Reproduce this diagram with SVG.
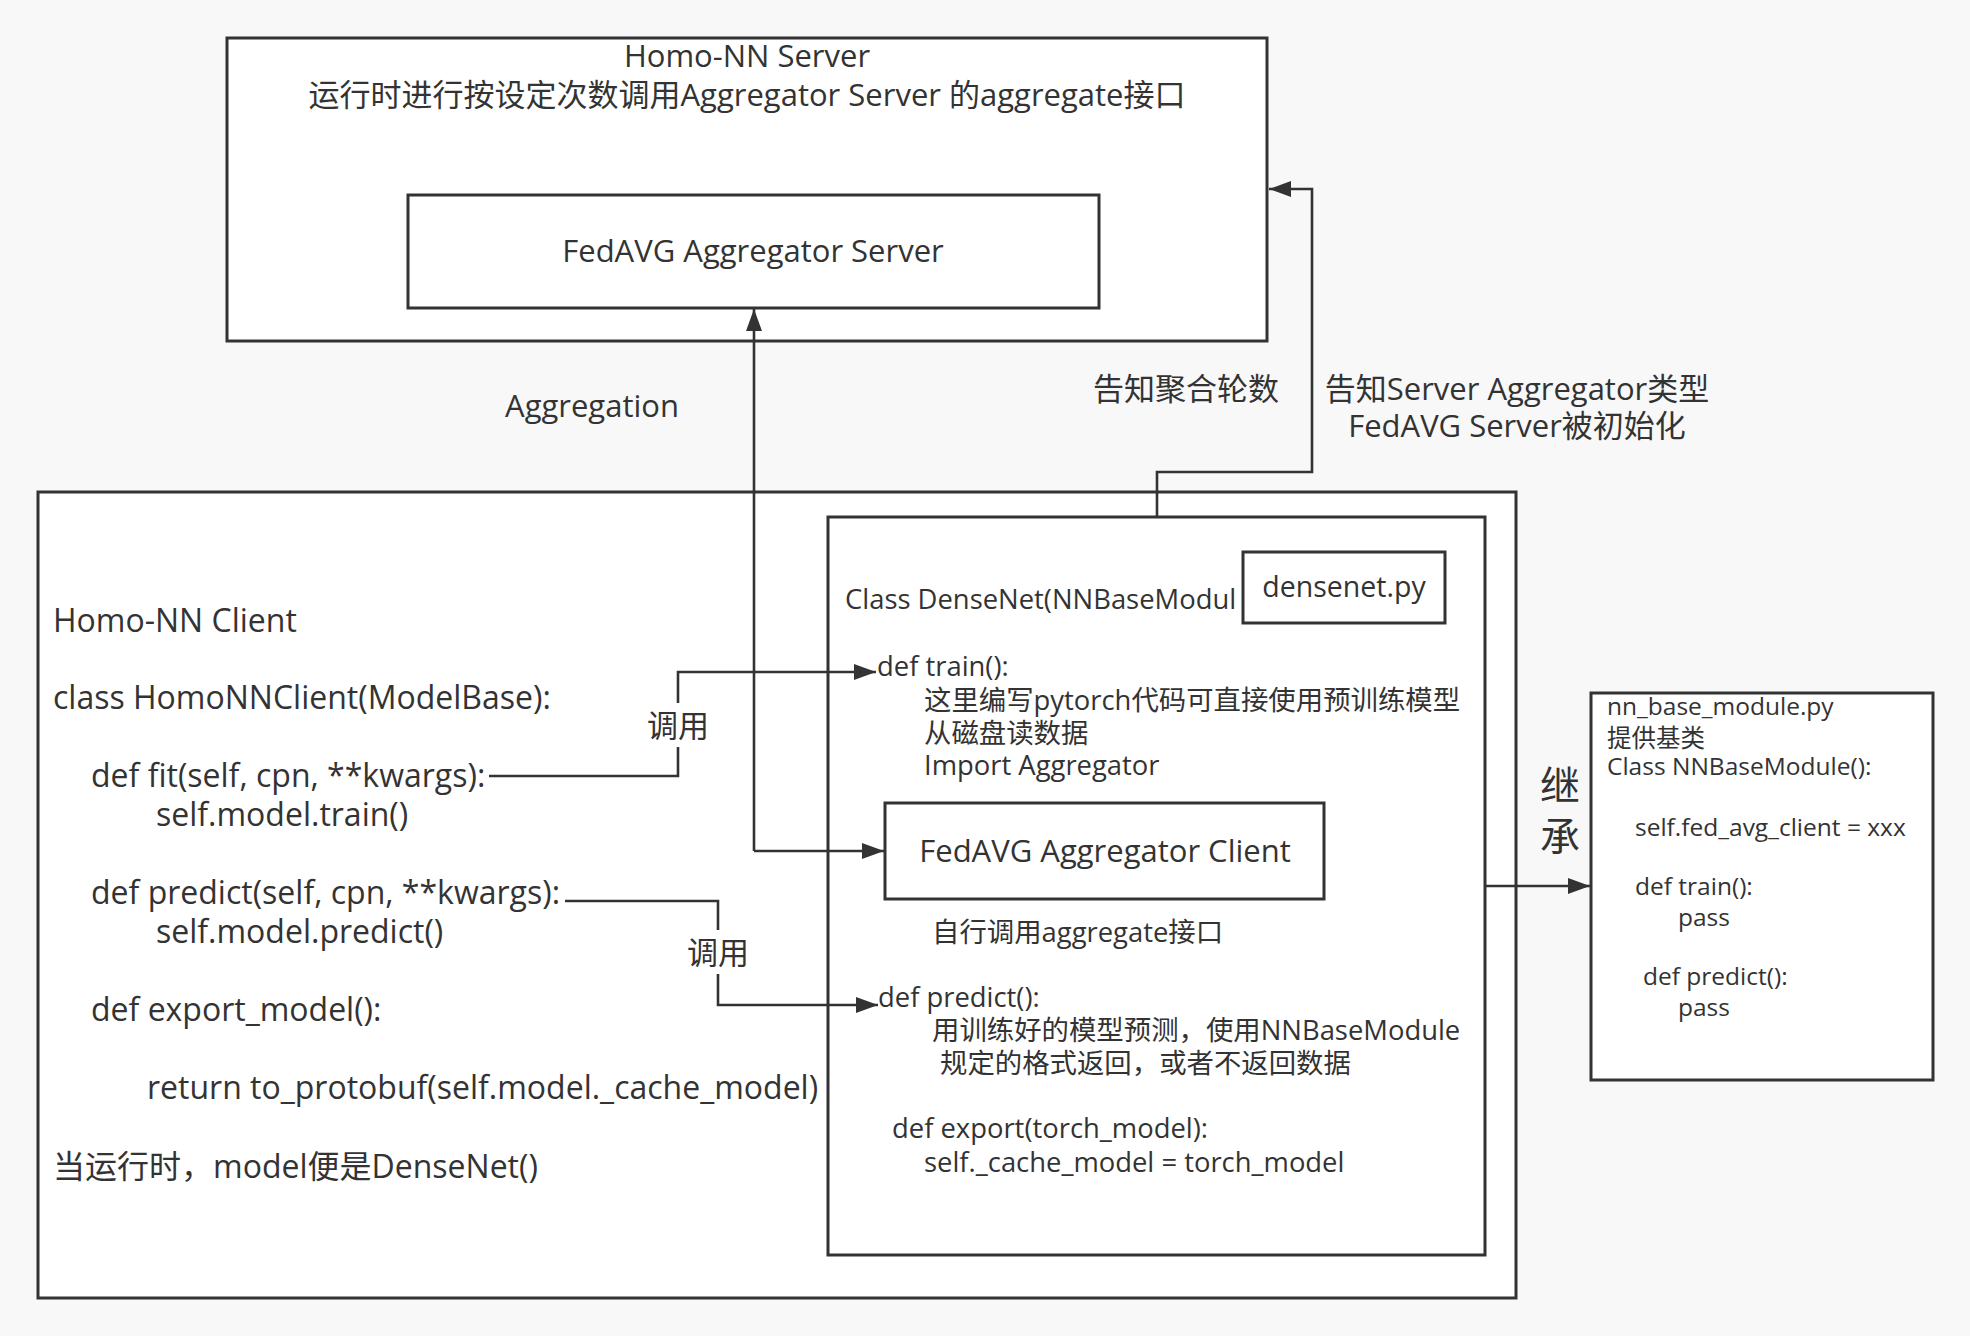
<svg xmlns="http://www.w3.org/2000/svg" width="1970" height="1336" viewBox="0 0 1970 1336">
<style>
text{font-family:"Open Sans","Noto Sans CJK SC",sans-serif;fill:#333;}
.box{fill:#fff;stroke:#333;stroke-width:3;}
.ln{fill:none;stroke:#333;stroke-width:2.6;}
.s31{font-size:31px;}
.s32{font-size:32px;}
.s28{font-size:27.4px;}
.s24{font-size:24.5px;}
.mid{text-anchor:middle;}
</style>
<defs>
<marker id="ah" markerUnits="userSpaceOnUse" markerWidth="24" markerHeight="18" refX="22" refY="8" orient="auto-start-reverse" viewBox="0 0 24 18">
<path d="M0,0 L22,8 L0,16 Z" fill="#333"/>
</marker>
</defs>
<rect width="1970" height="1336" fill="#f8f8f8"/>
<g id="server">
<rect class="box" x="227" y="38" width="1040" height="303"/>
<text class="s31 mid" x="747" y="67">Homo-NN Server</text>
<text class="s31 mid" x="747" y="106">运行时进行按设定次数调用Aggregator Server 的aggregate接口</text>
</g>
<g id="fedavg-server">
<rect class="box" x="408" y="195" width="691" height="113"/>
<text class="s31 mid" x="753" y="262">FedAVG Aggregator Server</text>
</g>
<g id="client">
<rect class="box" x="38" y="492" width="1478" height="806"/>
<text class="s32" x="53" y="632">Homo-NN Client</text>
<text class="s32" x="53" y="709">class HomoNNClient(ModelBase):</text>
<text class="s32" x="91" y="787">def fit(self, cpn, **kwargs):</text>
<text class="s32" x="156" y="826">self.model.train()</text>
<text class="s32" x="91" y="904">def predict(self, cpn, **kwargs):</text>
<text class="s32" x="156" y="943">self.model.predict()</text>
<text class="s32" x="91" y="1021">def export_model():</text>
<text class="s32" x="147" y="1099">return to_protobuf(self.model._cache_model)</text>
<text class="s32" x="53" y="1178">当运行时，model便是DenseNet()</text>
</g>
<g id="densenet">
<rect class="box" x="828" y="517" width="657" height="738"/>
<text class="s28" x="845" y="609">Class DenseNet(NNBaseModul</text>
<text class="s28" x="877" y="676">def train():</text>
<text class="s28" x="924" y="710">这里编写pytorch代码可直接使用预训练模型</text>
<text class="s28" x="924" y="743">从磁盘读数据</text>
<text class="s28" x="924" y="775">Import Aggregator</text>
<text class="s28" x="932" y="942">自行调用aggregate接口</text>
<text class="s28" x="878" y="1007">def predict():</text>
<text class="s28" x="932" y="1040">用训练好的模型预测，使用NNBaseModule</text>
<text class="s28" x="940" y="1073">规定的格式返回，或者不返回数据</text>
<text class="s28" x="892" y="1138">def export(torch_model):</text>
<text class="s28" x="924" y="1172">self._cache_model = torch_model</text>
</g>
<g id="densenet-py">
<rect class="box" x="1243" y="552" width="202" height="71"/>
<text class="mid" style="font-size:28.5px" x="1344" y="597">densenet.py</text>
</g>
<g id="fedavg-client">
<rect class="box" x="885" y="803" width="439" height="96"/>
<text class="s31 mid" x="1105" y="862">FedAVG Aggregator Client</text>
</g>
<g id="nn-base">
<rect class="box" x="1591" y="693" width="342" height="387"/>
<text class="s24" x="1607" y="715">nn_base_module.py</text>
<text class="s24" x="1607" y="747">提供基类</text>
<text class="s24" x="1607" y="775">Class NNBaseModule():</text>
<text class="s24" x="1635" y="836">self.fed_avg_client = xxx</text>
<text class="s24" x="1635" y="895">def train():</text>
<text class="s24" x="1678" y="926">pass</text>
<text class="s24" x="1643" y="985">def predict():</text>
<text class="s24" x="1678" y="1016">pass</text>
</g>
<g id="connectors">
<path class="ln" d="M754,851 L754,309" marker-end="url(#ah)"/>
<path class="ln" d="M754,851 L884,851" marker-end="url(#ah)"/>
<path class="ln" d="M489,776 H678 V672 H876" marker-end="url(#ah)"/>
<path class="ln" d="M565,901 H718 V1005 H878" marker-end="url(#ah)"/>
<path class="ln" d="M1485,886 H1590" marker-end="url(#ah)"/>
<path class="ln" d="M1157,516 V472 H1312 V189 H1269" marker-end="url(#ah)"/>
<rect x="658" y="703" width="42" height="44" fill="#fff"/>
<text class="s31 mid" x="678" y="737">调用</text>
<rect x="697" y="930" width="42" height="44" fill="#fff"/>
<text class="s31 mid" x="718" y="964">调用</text>
</g>
<g id="labels">
<text class="s31 mid" x="592" y="417">Aggregation</text>
<text class="s31 mid" x="1186" y="400">告知聚合轮数</text>
<text class="s31 mid" x="1517" y="400">告知Server Aggregator类型</text>
<text class="s31 mid" x="1517" y="437">FedAVG Server被初始化</text>
<text class="mid" style="font-size:40px" x="1560" y="800">继</text>
<text class="mid" style="font-size:40px" x="1560" y="851">承</text>
</g>
</svg>
